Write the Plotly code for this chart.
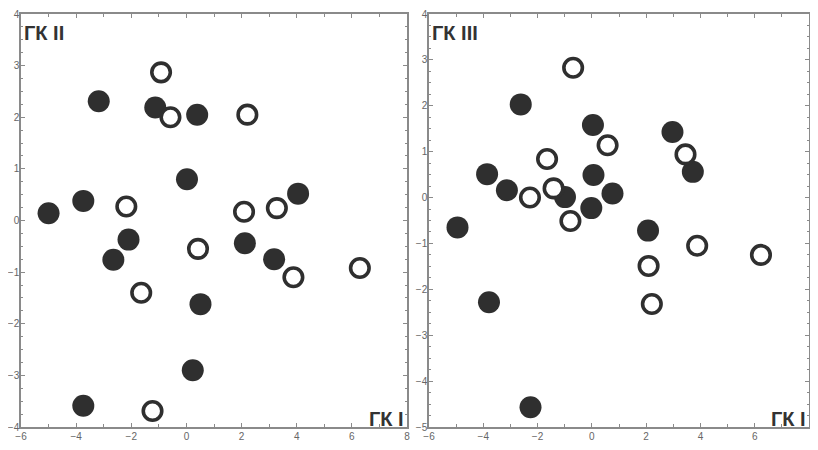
import plotly.graph_objects as go

# Panel 1: ГК I vs ГК II
p1_filled_x = [-5.0, -3.74, -3.18, -1.13, 0.39, 0.02, -2.10, -2.65, 0.51, 0.23, -3.74, 2.12, 3.18, 4.05]
p1_filled_y = [0.14, 0.38, 2.31, 2.19, 2.05, 0.80, -0.37, -0.76, -1.62, -2.90, -3.59, -0.44, -0.75, 0.52]
p1_open_x = [-0.92, -0.58, 2.21, -2.18, 2.09, 3.28, 0.42, 3.88, 6.29, -1.64, -1.23]
p1_open_y = [2.87, 2.00, 2.05, 0.27, 0.17, 0.24, -0.55, -1.10, -0.92, -1.40, -3.69]

# Panel 2: ГК I vs ГК III
p2_filled_x = [-4.95, -3.86, -3.13, -3.79, -2.62, -2.26, -0.99, 0.04, 0.06, -0.02, 0.76, 2.07, 2.97, 3.72]
p2_filled_y = [-0.65, 0.51, 0.16, -2.28, 2.03, -4.57, 0.01, 1.58, 0.49, -0.23, 0.09, -0.72, 1.43, 0.56]
p2_open_x = [-0.69, -1.65, -1.41, -2.28, -0.79, 0.58, 3.45, 2.09, 2.21, 3.88, 6.23]
p2_open_y = [2.83, 0.84, 0.20, 0.00, -0.51, 1.14, 0.94, -1.49, -2.32, -1.05, -1.25]

x_range = [-6, 8]
y1_range = [-4, 4]
y2_range = [-5, 4]
label_1 = "ГК I"
label_2 = "ГК II"
label_3 = "ГК III"

DARK = "#2f2f2f"
FRAME = "#8a8a8a"
TICKFONT = dict(family="Liberation Sans Narrow, Arial Narrow, Liberation Sans, Arial", size=10, color="#666666")

# the page has the default 8px body margin; keep the figure inside the window (no scrollbars)
OFF = 8
W, H = 818 - 2 * OFF, 450 - 2 * OFF

fig = go.Figure()

def add_panel(fx, fy, ox, oy, xa, ya):
    fig.add_trace(go.Scatter(x=fx, y=fy, mode="markers", xaxis=xa, yaxis=ya,
                             marker=dict(size=22, color=DARK, line=dict(width=0)),
                             showlegend=False, hoverinfo="x+y"))
    fig.add_trace(go.Scatter(x=ox, y=oy, mode="markers", xaxis=xa, yaxis=ya,
                             marker=dict(size=18.5, color="white", line=dict(width=3.6, color=DARK)),
                             showlegend=False, hoverinfo="x+y"))

add_panel(p1_filled_x, p1_filled_y, p1_open_x, p1_open_y, "x", "y")
add_panel(p2_filled_x, p2_filled_y, p2_open_x, p2_open_y, "x2", "y2")

def px_x(p):
    return (p - OFF) / W

def px_y(p):
    return 1 - (p - OFF) / H

ydom = [px_y(427), px_y(14)]

def xaxis_cfg(domain, anchor):
    return dict(domain=domain, anchor=anchor, range=x_range, dtick=2, tick0=-6,
                ticks="inside", ticklen=4, tickwidth=1, tickcolor=FRAME,
                minor=dict(dtick=1, ticks="inside", ticklen=3, tickcolor=FRAME),
                showline=True, linecolor=FRAME, linewidth=1.5, mirror="ticks",
                showgrid=False, zeroline=False, tickfont=TICKFONT, fixedrange=True,
                automargin=False, ticklabelstandoff=-1)

def yaxis_cfg(rng, anchor):
    return dict(domain=ydom, anchor=anchor, range=rng, dtick=1,
                ticks="inside", ticklen=4, tickwidth=1, tickcolor=FRAME,
                minor=dict(dtick=0.25, ticks="inside", ticklen=2, tickcolor=FRAME),
                showline=True, linecolor=FRAME, linewidth=1.5, mirror="ticks",
                showgrid=False, zeroline=False, tickfont=TICKFONT, fixedrange=True,
                automargin=False, ticklabelstandoff=-2)

fig.update_layout(
    width=W, height=H, autosize=False,
    margin=dict(l=0, r=0, t=0, b=0),
    paper_bgcolor="white", plot_bgcolor="white",
    xaxis=xaxis_cfg([px_x(21), px_x(407)], "y"),
    yaxis=yaxis_cfg(y1_range, "x"),
    xaxis2=xaxis_cfg([px_x(429), px_x(809)], "y2"),
    yaxis2=yaxis_cfg(y2_range, "x2"),
)

AFONT = dict(family="Liberation Sans, Arial", size=20, color="#333333")
ann = [
    dict(text="<b>" + label_2 + "</b>", xref="x domain", yref="y domain", x=0.002, y=0.985,
         xanchor="left", yanchor="top", showarrow=False, font=AFONT),
    dict(text="<b>" + label_1 + "</b>", xref="x domain", yref="y domain", x=0.997, y=-0.012,
         xanchor="right", yanchor="bottom", showarrow=False, font=AFONT),
    dict(text="<b>" + label_3 + "</b>", xref="x2 domain", yref="y2 domain", x=0.002, y=0.985,
         xanchor="left", yanchor="top", showarrow=False, font=AFONT),
    dict(text="<b>" + label_1 + "</b>", xref="x2 domain", yref="y2 domain", x=0.997, y=-0.012,
         xanchor="right", yanchor="bottom", showarrow=False, font=AFONT),
]
fig.update_layout(annotations=ann)

fig.write_html("out.html", config={"displayModeBar": False})
